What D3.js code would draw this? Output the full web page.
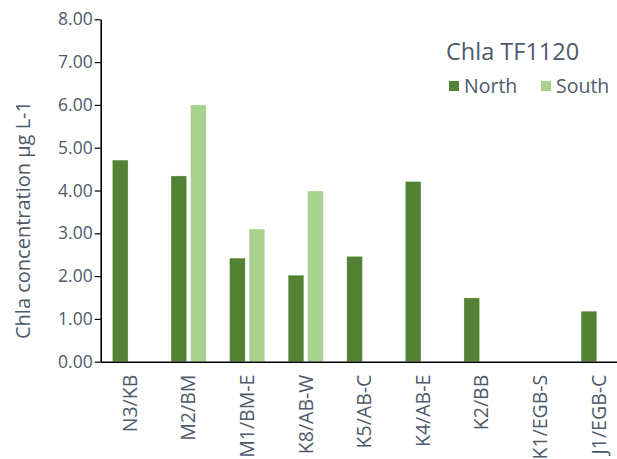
<!DOCTYPE html>
<html>
<head>
<meta charset="utf-8">
<script src="https://cdn.jsdelivr.net/npm/d3@7"></script>
<style>
  html, body { margin: 0; padding: 0; background: #fff; }
  svg { display: block; font-family: "Open Sans", "Noto Sans", sans-serif; }
</style>
</head>
<body>
<svg id="chart" width="617" height="459"></svg>
<script>
// Sampling stations and Chl a concentrations (µg L-1)
const categories = ["N3/KB", "M2/BM", "M1/BM-E", "K8/AB-W", "K5/AB-C", "K4/AB-E", "K2/BB", "K1/EGB-S", "J1/EGB-C"];
const seriesNames = ["North", "South"];
const northValues = [4.71, 4.34, 2.42, 2.02, 2.46, 4.21, 1.49, null, 1.18];
const southValues = [null, 6.00, 3.10, 3.99, null, null, null, null, null];
const yTicks = [0, 1, 2, 3, 4, 5, 6, 7, 8];
const chartTitle = "Chla TF1120";
const yTitle = "Chla concentration µg L-1";

const colors = { North: "#548235", South: "#a9d18e" };
const textColor = "#4d5a6c";

const svg = d3.select("#chart");
const margin = { left: 100.7, top: 19.3, bottom: 361.7 };
const plotRight = 628;

const x = d3.scaleBand().domain(categories).range([margin.left, plotRight]).paddingInner(0).paddingOuter(0);
const xSub = d3.scaleBand().domain(seriesNames).range([0, x.bandwidth()]).paddingInner(0.2).paddingOuter(0.6);
const y = d3.scaleLinear().domain([0, 8]).range([margin.bottom, margin.top]);

const rows = categories.map((c, i) => ({ cat: c, North: northValues[i], South: southValues[i] }));

// bars
const groups = svg.append("g").selectAll("g").data(rows).join("g")
  .attr("transform", d => `translate(${x(d.cat)},0)`);
groups.selectAll("rect")
  .data(d => seriesNames.map(s => ({ s, v: d[s] })).filter(e => e.v != null))
  .join("rect")
  .attr("x", e => xSub(e.s))
  .attr("width", xSub.bandwidth())
  .attr("y", e => y(e.v))
  .attr("height", e => y(0) - y(e.v))
  .attr("fill", e => colors[e.s])
  .attr("stroke", "#ffffff")
  .attr("stroke-opacity", 0.35)
  .attr("stroke-width", 0.8);

// y axis
const yAxis = d3.axisLeft(y).tickValues(yTicks).tickFormat(d3.format(".2f")).tickSize(6).tickSizeOuter(0);
const yg = svg.append("g").attr("transform", `translate(${margin.left},0)`).call(yAxis);
yg.select(".domain").attr("stroke", "#000").attr("stroke-width", 1.6);
yg.selectAll(".tick line").attr("stroke", "#000").attr("stroke-width", 1.2);
yg.selectAll(".tick text").attr("fill", textColor).attr("font-size", 17.5).attr("x", -8)
  .attr("font-family", "'Open Sans', sans-serif");

// x axis
const xAxis = d3.axisBottom(x).tickSize(0).tickSizeOuter(0);
const xg = svg.append("g").attr("transform", `translate(0,${margin.bottom})`).call(xAxis);
xg.select(".domain").attr("stroke", "#000").attr("stroke-width", 1.6);
xg.selectAll(".tick text")
  .attr("fill", textColor)
  .attr("font-size", 19.5)
  .attr("font-family", "'Open Sans', sans-serif")
  .attr("transform", "rotate(-90)")
  .attr("text-anchor", "end")
  .attr("dy", "0.35em")
  .attr("x", -13)
  .attr("y", 0);

// y axis title
svg.append("text")
  .attr("transform", "translate(30,220) rotate(-90)")
  .attr("text-anchor", "middle")
  .attr("fill", textColor)
  .attr("font-size", 20)
  .text(yTitle);

// legend
svg.append("text")
  .attr("x", 446).attr("y", 60)
  .attr("fill", textColor)
  .attr("font-size", 23.5)
  .text(chartTitle);
const legendItems = [{ s: "North", x: 449 }, { s: "South", x: 541 }];
const lg = svg.append("g").selectAll("g").data(legendItems).join("g")
  .attr("transform", d => `translate(${d.x},0)`);
lg.append("rect").attr("x", 0).attr("y", 81).attr("width", 10).attr("height", 10)
  .attr("fill", d => colors[d.s]);
lg.append("text").attr("x", 15).attr("y", 93)
  .attr("fill", textColor).attr("font-size", 19.5)
  .text(d => d.s);
</script>
</body>
</html>
